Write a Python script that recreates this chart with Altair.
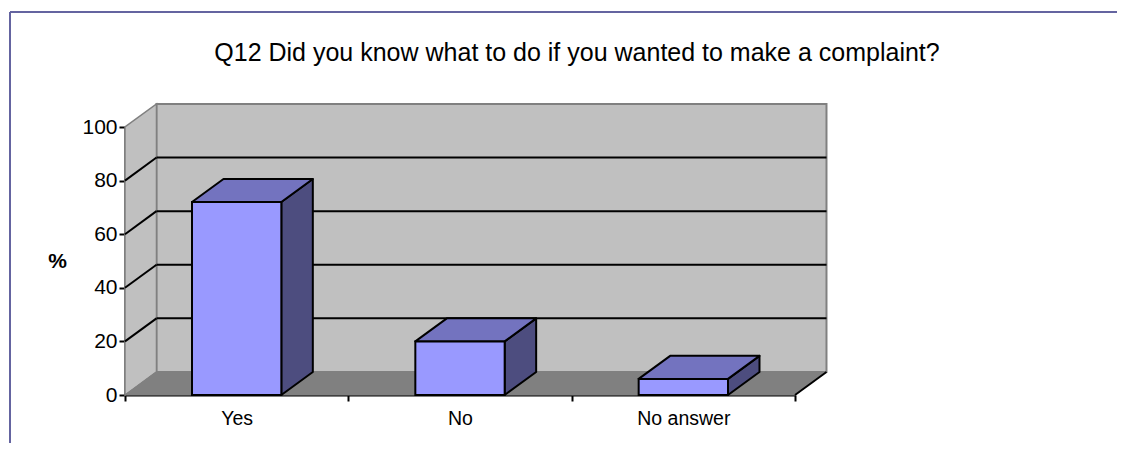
import altair as alt
import pandas as pd

# ---- data ----
categories = ["Yes", "No", "No answer"]
values = [72, 20, 6]
y_ticks = [0, 20, 40, 60, 80, 100]
title_text = "Q12 Did you know what to do if you wanted to make a complaint?"
y_title = "%"

# ---- 3D styling (in data units of the scales) ----
DX = 0.141      # depth offset along x (category units)
DY = 8.6        # depth offset along y (percent units)
BAR_L, BAR_R = 0.30, 0.70   # bar extent inside a category band
N = len(categories)

FONT = "Liberation Sans"
WALL = "#C0C0C0"
FLOOR = "#808080"
EDGE = "#808080"
FRONT = "#9999FF"
TOP = "#7373BF"
SIDE = "#4D4D7F"

W, H = 670, 268
xs = alt.Scale(domain=[0, N], nice=False, zero=False)
ys = alt.Scale(domain=[0, 100], nice=False, zero=False)

# axes layer (first, so its axis definitions are used)
label_pos = [i + 0.5 for i in range(N)]
x_vals = sorted(list(range(N + 1)) + label_pos)
lab_expr = " : ".join([f"datum.value == {p} ? '{c}'" for p, c in zip(label_pos, categories)]) + " : ''"
axes_df = pd.DataFrame({"x": [0], "y": [0]})
axes = alt.Chart(axes_df).mark_point(opacity=0).encode(
    x=alt.X("x:Q", scale=xs, axis=alt.Axis(
        values=x_vals, labelExpr=lab_expr, title=None, grid=False,
        domainColor="black", domainWidth=2,
        tickColor={"condition": {"test": "datum.value % 1 != 0", "value": "transparent"}, "value": "black"},
        tickWidth=2, tickSize=6, labelFont=FONT, labelFontSize=19.5, labelColor="black",
        labelPadding=8, labelFlush=False, labelOverlap=False)),
    y=alt.Y("y:Q", scale=ys, axis=alt.Axis(
        values=y_ticks, title=y_title, titleAngle=0, titleFont=FONT, titleFontSize=21,
        titleFontWeight="bold", titleColor="black", titleX=-68, titleY=H / 2,
        titleAlign="center", titleBaseline="middle", grid=False,
        domainColor="black", domainWidth=2, tickColor="black", tickWidth=2, tickSize=6,
        labelFont=FONT, labelFontSize=21, labelColor="black", labelPadding=2)),
)

# back wall
back = pd.DataFrame({"x": [DX], "x2": [N + DX], "y": [DY], "y2": [100 + DY]})
back_wall = alt.Chart(back).mark_rect(fill=WALL, stroke=EDGE, strokeWidth=2).encode(
    x=alt.X("x:Q", scale=xs), x2="x2:Q",
    y=alt.Y("y:Q", scale=ys), y2="y2:Q")

# left side wall (parallelogram with vertical edges)
side = pd.DataFrame({"x": [0, DX], "lo": [0, DY], "hi": [100, 100 + DY]})
side_wall = alt.Chart(side).mark_area(fill=WALL, stroke=EDGE, strokeWidth=1.5).encode(
    x=alt.X("x:Q", scale=xs), y=alt.Y("lo:Q", scale=ys), y2="hi:Q")

# floor (parallelogram with horizontal edges)
floor = pd.DataFrame({"y": [0, DY], "l": [0, DX], "r": [N, N + DX]})
floor_area = alt.Chart(floor).mark_area(orient="horizontal", fill=FLOOR, stroke=EDGE, strokeWidth=1).encode(
    y=alt.Y("y:Q", scale=ys), x=alt.X("l:Q", scale=xs), x2="r:Q")

# right floor edge (black)
fe = pd.DataFrame({"x": [N], "y": [0], "x2": [N + DX], "y2": [DY]})
floor_edge = alt.Chart(fe).mark_rule(color="black", strokeWidth=2).encode(
    x=alt.X("x:Q", scale=xs), y=alt.Y("y:Q", scale=ys), x2="x2:Q", y2="y2:Q")

# gridlines: back wall horizontals + side-wall diagonals
gv = [v for v in y_ticks if 0 < v < 100]
grid_back = pd.DataFrame({"x": [DX] * len(gv), "x2": [N + DX] * len(gv),
                          "y": [v + DY for v in gv], "y2": [v + DY for v in gv]})
grid_side = pd.DataFrame({"x": [0] * len(gv), "x2": [DX] * len(gv),
                          "y": gv, "y2": [v + DY for v in gv]})
grid = pd.concat([grid_back, grid_side], ignore_index=True)
grid_lines = alt.Chart(grid).mark_rule(color="black", strokeWidth=2).encode(
    x=alt.X("x:Q", scale=xs), y=alt.Y("y:Q", scale=ys), x2="x2:Q", y2="y2:Q")

# bars
layers = []
for i, (c, v) in enumerate(zip(categories, values)):
    x0, x1 = i + BAR_L, i + BAR_R
    top = pd.DataFrame({"y": [v, v + DY], "l": [x0, x0 + DX], "r": [x1, x1 + DX]})
    sidef = pd.DataFrame({"x": [x1, x1 + DX], "lo": [0, DY], "hi": [v, v + DY]})
    front = pd.DataFrame({"x": [x0], "x2": [x1], "y": [0], "y2": [v]})
    layers.append(alt.Chart(sidef).mark_area(fill=SIDE, stroke="black", strokeWidth=2, strokeJoin="round").encode(
        x=alt.X("x:Q", scale=xs), y=alt.Y("lo:Q", scale=ys), y2="hi:Q"))
    layers.append(alt.Chart(top).mark_area(orient="horizontal", fill=TOP, stroke="black", strokeWidth=2, strokeJoin="round").encode(
        y=alt.Y("y:Q", scale=ys), x=alt.X("l:Q", scale=xs), x2="r:Q"))
    layers.append(alt.Chart(front).mark_rect(fill=FRONT, stroke="black", strokeWidth=2).encode(
        x=alt.X("x:Q", scale=xs), x2="x2:Q", y=alt.Y("y:Q", scale=ys), y2="y2:Q"))

# outer frame
frame_v = alt.Chart(axes_df).mark_rule(color="#6464A0", strokeWidth=2).encode(
    x=alt.value(-115), y=alt.value(-115), y2=alt.value(340))
frame_h = alt.Chart(axes_df).mark_rule(color="#6464A0", strokeWidth=2).encode(
    x=alt.value(-115), x2=alt.value(1000), y=alt.value(-115))

chart = alt.layer(
    axes, frame_v, frame_h, back_wall, side_wall, floor_area, grid_lines, floor_edge, *layers
).properties(
    width=W, height=H,
    title=alt.TitleParams(title_text, font=FONT, fontSize=25, fontWeight="normal", color="black",
                          anchor="middle", dx=117, dy=59),
    padding={"left": 117, "top": 119, "right": 322, "bottom": 48},
    autosize=alt.AutoSizeParams(type="none"),
).configure_view(stroke=None).configure(background="white")

chart.save("out.html", embed_options={"renderer": "svg", "actions": False})
